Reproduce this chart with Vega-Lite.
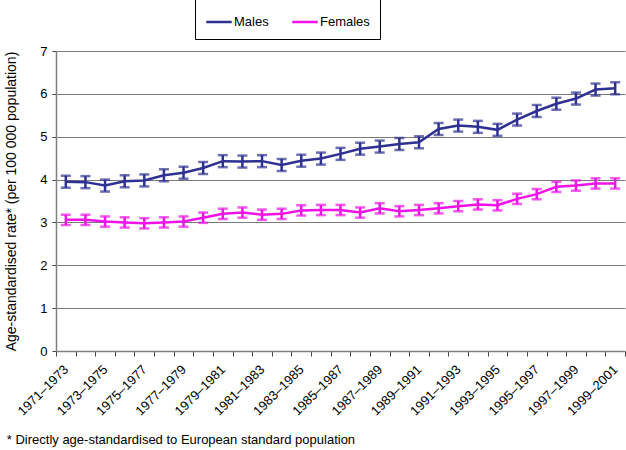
{
  "$schema": "https://vega.github.io/schema/vega-lite/v6.json",
  "autosize": "none",
  "width": 569,
  "height": 300,
  "padding": {"left": 56, "top": 51, "right": 1, "bottom": 99},
  "background": "white",
  "config": {
    "font": "Liberation Sans",
    "view": {"stroke": null}
  },
  "title": {
    "text": "* Directly age-standardised to European standard population",
    "orient": "bottom",
    "anchor": "start",
    "frame": "bounds",
    "fontSize": 13,
    "fontWeight": "normal",
    "color": "black",
    "offset": 16,
    "dx": 2
  },
  "data": {
    "values": [
      {"period": "1971–1973", "sex": "Males", "rate": 3.95, "lo": 3.81, "hi": 4.09},
      {"period": "1972–1974", "sex": "Males", "rate": 3.94, "lo": 3.80, "hi": 4.08},
      {"period": "1973–1975", "sex": "Males", "rate": 3.86, "lo": 3.72, "hi": 4.00},
      {"period": "1974–1976", "sex": "Males", "rate": 3.96, "lo": 3.82, "hi": 4.10},
      {"period": "1975–1977", "sex": "Males", "rate": 3.98, "lo": 3.84, "hi": 4.12},
      {"period": "1976–1978", "sex": "Males", "rate": 4.10, "lo": 3.96, "hi": 4.24},
      {"period": "1977–1979", "sex": "Males", "rate": 4.16, "lo": 4.02, "hi": 4.30},
      {"period": "1978–1980", "sex": "Males", "rate": 4.27, "lo": 4.13, "hi": 4.41},
      {"period": "1979–1981", "sex": "Males", "rate": 4.43, "lo": 4.29, "hi": 4.57},
      {"period": "1980–1982", "sex": "Males", "rate": 4.42, "lo": 4.28, "hi": 4.56},
      {"period": "1981–1983", "sex": "Males", "rate": 4.43, "lo": 4.29, "hi": 4.57},
      {"period": "1982–1984", "sex": "Males", "rate": 4.34, "lo": 4.20, "hi": 4.48},
      {"period": "1983–1985", "sex": "Males", "rate": 4.44, "lo": 4.30, "hi": 4.58},
      {"period": "1984–1986", "sex": "Males", "rate": 4.49, "lo": 4.35, "hi": 4.63},
      {"period": "1985–1987", "sex": "Males", "rate": 4.60, "lo": 4.46, "hi": 4.74},
      {"period": "1986–1988", "sex": "Males", "rate": 4.72, "lo": 4.58, "hi": 4.86},
      {"period": "1987–1989", "sex": "Males", "rate": 4.77, "lo": 4.63, "hi": 4.91},
      {"period": "1988–1990", "sex": "Males", "rate": 4.83, "lo": 4.69, "hi": 4.97},
      {"period": "1989–1991", "sex": "Males", "rate": 4.87, "lo": 4.73, "hi": 5.01},
      {"period": "1990–1992", "sex": "Males", "rate": 5.18, "lo": 5.04, "hi": 5.32},
      {"period": "1991–1993", "sex": "Males", "rate": 5.26, "lo": 5.12, "hi": 5.40},
      {"period": "1992–1994", "sex": "Males", "rate": 5.23, "lo": 5.09, "hi": 5.37},
      {"period": "1993–1995", "sex": "Males", "rate": 5.16, "lo": 5.02, "hi": 5.30},
      {"period": "1994–1996", "sex": "Males", "rate": 5.40, "lo": 5.26, "hi": 5.54},
      {"period": "1995–1997", "sex": "Males", "rate": 5.60, "lo": 5.46, "hi": 5.74},
      {"period": "1996–1998", "sex": "Males", "rate": 5.77, "lo": 5.63, "hi": 5.91},
      {"period": "1997–1999", "sex": "Males", "rate": 5.89, "lo": 5.75, "hi": 6.03},
      {"period": "1998–2000", "sex": "Males", "rate": 6.10, "lo": 5.96, "hi": 6.24},
      {"period": "1999–2001", "sex": "Males", "rate": 6.13, "lo": 5.99, "hi": 6.27},
      {"period": "1971–1973", "sex": "Females", "rate": 3.06, "lo": 2.94, "hi": 3.18},
      {"period": "1972–1974", "sex": "Females", "rate": 3.06, "lo": 2.94, "hi": 3.18},
      {"period": "1973–1975", "sex": "Females", "rate": 3.02, "lo": 2.90, "hi": 3.14},
      {"period": "1974–1976", "sex": "Females", "rate": 3.00, "lo": 2.88, "hi": 3.12},
      {"period": "1975–1977", "sex": "Females", "rate": 2.98, "lo": 2.86, "hi": 3.10},
      {"period": "1976–1978", "sex": "Females", "rate": 3.00, "lo": 2.88, "hi": 3.12},
      {"period": "1977–1979", "sex": "Females", "rate": 3.02, "lo": 2.90, "hi": 3.14},
      {"period": "1978–1980", "sex": "Females", "rate": 3.11, "lo": 2.99, "hi": 3.23},
      {"period": "1979–1981", "sex": "Females", "rate": 3.20, "lo": 3.08, "hi": 3.32},
      {"period": "1980–1982", "sex": "Females", "rate": 3.23, "lo": 3.11, "hi": 3.35},
      {"period": "1981–1983", "sex": "Females", "rate": 3.18, "lo": 3.06, "hi": 3.30},
      {"period": "1982–1984", "sex": "Females", "rate": 3.20, "lo": 3.08, "hi": 3.32},
      {"period": "1983–1985", "sex": "Females", "rate": 3.28, "lo": 3.16, "hi": 3.40},
      {"period": "1984–1986", "sex": "Females", "rate": 3.29, "lo": 3.17, "hi": 3.41},
      {"period": "1985–1987", "sex": "Females", "rate": 3.29, "lo": 3.17, "hi": 3.41},
      {"period": "1986–1988", "sex": "Females", "rate": 3.23, "lo": 3.11, "hi": 3.35},
      {"period": "1987–1989", "sex": "Females", "rate": 3.33, "lo": 3.21, "hi": 3.45},
      {"period": "1988–1990", "sex": "Females", "rate": 3.26, "lo": 3.14, "hi": 3.38},
      {"period": "1989–1991", "sex": "Females", "rate": 3.29, "lo": 3.17, "hi": 3.41},
      {"period": "1990–1992", "sex": "Females", "rate": 3.33, "lo": 3.21, "hi": 3.45},
      {"period": "1991–1993", "sex": "Females", "rate": 3.38, "lo": 3.26, "hi": 3.50},
      {"period": "1992–1994", "sex": "Females", "rate": 3.42, "lo": 3.30, "hi": 3.54},
      {"period": "1993–1995", "sex": "Females", "rate": 3.40, "lo": 3.28, "hi": 3.52},
      {"period": "1994–1996", "sex": "Females", "rate": 3.55, "lo": 3.43, "hi": 3.67},
      {"period": "1995–1997", "sex": "Females", "rate": 3.66, "lo": 3.54, "hi": 3.78},
      {"period": "1996–1998", "sex": "Females", "rate": 3.83, "lo": 3.71, "hi": 3.95},
      {"period": "1997–1999", "sex": "Females", "rate": 3.86, "lo": 3.74, "hi": 3.98},
      {"period": "1998–2000", "sex": "Females", "rate": 3.91, "lo": 3.79, "hi": 4.03},
      {"period": "1999–2001", "sex": "Females", "rate": 3.91, "lo": 3.79, "hi": 4.03}
    ]
  },
  "encoding": {
    "x": {
      "field": "period",
      "type": "nominal",
      "sort": null,
      "scale": {"type": "band", "paddingInner": 0, "paddingOuter": 0},
      "axis": {
        "title": null,
        "tickBand": "extent",
        "labelAngle": -45,
        "labelAlign": "right",
        "labelBaseline": "middle",
        "labelFontSize": 13,
        "labelColor": "black",
        "labelOverlap": false,
        "labelPadding": 11,
        "labelExpr": "toNumber(substring(datum.label, 0, 4)) % 2 == 1 ? datum.label : ''",
        "tickSize": 5,
        "tickColor": "#444444",
        "domainColor": "#808080",
        "domainWidth": 1.5,
        "grid": false
      }
    },
    "color": {
      "field": "sex",
      "type": "nominal",
      "scale": {"domain": ["Males", "Females"], "range": ["#2E3192", "#F012E8"]},
      "legend": null
    }
  },
  "layer": [
    {
      "mark": {"type": "line", "strokeWidth": 2.5},
      "encoding": {
        "y": {
          "field": "rate",
          "type": "quantitative",
          "scale": {"domain": [0, 7], "nice": false},
          "axis": {
            "title": "Age-standardised rate* (per 100 000 population)",
            "titleFontSize": 14,
            "titleFontWeight": "normal",
            "titleColor": "black",
            "titlePadding": 21,
            "values": [0, 1, 2, 3, 4, 5, 6, 7],
            "labelFontSize": 13,
            "labelColor": "black",
            "labelPadding": 5,
            "tickSize": 4,
            "tickColor": "#444444",
            "domainColor": "#808080",
            "domainWidth": 1.5,
            "grid": true,
            "gridColor": "#7a7a7a",
            "gridWidth": 1
          }
        },
        "color": {
          "field": "sex",
          "type": "nominal",
          "scale": {"domain": ["Males", "Females"], "range": ["#2E3192", "#F012E8"]},
          "legend": {
            "title": null,
            "orient": "none",
            "direction": "horizontal",
            "legendX": 139,
            "legendY": -53,
            "strokeColor": "black",
            "fillColor": "white",
            "padding": 10,
            "symbolType": "stroke",
            "symbolSize": 650,
            "symbolStrokeWidth": 2.5,
            "labelFontSize": 13,
            "labelColor": "black",
            "labelOffset": 1,
            "columnPadding": 18
          }
        }
      }
    },
    {
      "mark": {"type": "rule", "strokeWidth": 2.5},
      "encoding": {
        "y": {"field": "lo", "type": "quantitative"},
        "y2": {"field": "hi"}
      }
    },
    {
      "mark": {"type": "tick", "thickness": 2.5, "size": 10},
      "encoding": {
        "y": {"field": "lo", "type": "quantitative"}
      }
    },
    {
      "mark": {"type": "tick", "thickness": 2.5, "size": 10},
      "encoding": {
        "y": {"field": "hi", "type": "quantitative"}
      }
    }
  ]
}
